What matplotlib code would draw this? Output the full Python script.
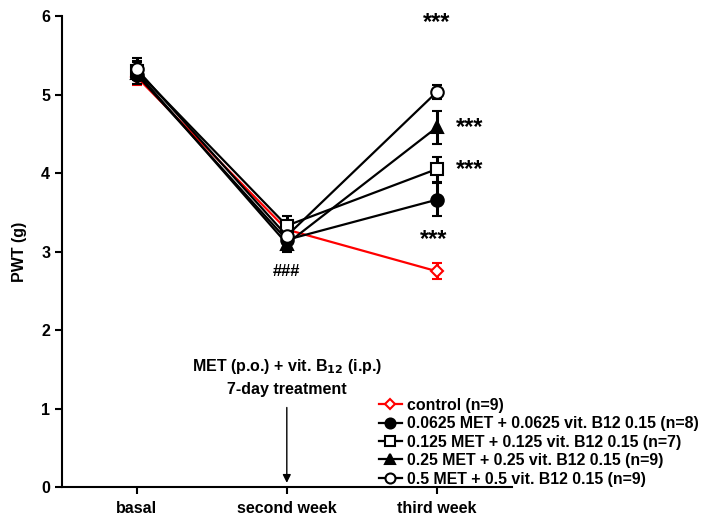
import numpy as np
import matplotlib
matplotlib.use('Agg')
import matplotlib.pyplot as plt
from matplotlib.lines import Line2D

plt.rcParams['font.family'] = ['Liberation Sans', 'DejaVu Sans']
plt.rcParams['font.weight'] = 'bold'

# 数据
weeks = ['basal', 'second week', 'third week']
labels = ['control (n=9)',
          '0.0625 MET + 0.0625 vit. B12 0.15 (n=8)',
          '0.125 MET + 0.125 vit. B12 0.15 (n=7)',
          '0.25 MET + 0.25 vit. B12 0.15 (n=9)',
          '0.5 MET + 0.5 vit. B12 0.15 (n=9)']
control_mean = [5.22, 3.28, 2.75]
control_sem = [0.10, 0.08, 0.10]
met0625_mean = [5.25, 3.15, 3.66]
met0625_sem = [0.12, 0.10, 0.21]
met125_mean = [5.30, 3.33, 4.05]
met125_sem = [0.12, 0.12, 0.16]
met25_mean = [5.28, 3.10, 4.58]
met25_sem = [0.15, 0.10, 0.21]
met5_mean = [5.32, 3.20, 5.03]
met5_sem = [0.14, 0.10, 0.09]

x = np.arange(len(weeks))

fig = plt.figure(figsize=(7.08, 5.15), dpi=100)
ax = fig.add_axes([0.0876, 0.054, 0.635, 0.915])

series = [
    (control_mean, control_sem, 'red', 'D', 'white', 6),
    (met0625_mean, met0625_sem, 'black', 'o', 'black', 9),
    (met125_mean, met125_sem, 'black', 's', 'white', 9),
    (met25_mean, met25_sem, 'black', '^', 'black', 9),
    (met5_mean, met5_sem, 'black', 'o', 'white', 9),
]
order = [1, 2, 3, 4, 0]
handles = [None] * len(series)
for i in order:
    m, s, c, mk, fc, ms = series[i]
    ax.errorbar(x, m, yerr=s, color=c, marker=mk, mfc=fc, mec=c, ms=ms,
                mew=1.5, lw=1.6, elinewidth=2.2, capsize=3.5, capthick=2.2,
                zorder=3 if i else 2)
    handles[i] = Line2D([], [], color=c, marker=mk, mfc=fc, mec=c,
                        ms=ms * 0.8, mew=1.5, lw=1.6)

ax.set_xlim(-0.5, 2.5)
ax.set_ylim(0, 6)
ax.set_xticks(x)
ax.set_xticklabels(weeks, fontsize=11.5, fontweight='bold')
ax.set_yticks(range(7))
ax.tick_params(axis='both', labelsize=11.5, width=1.5, length=5)
for t in ax.get_yticklabels():
    t.set_fontweight('bold')
ax.tick_params(axis='x', pad=5)
ax.set_ylabel('PWT (g)', fontsize=11.5, fontweight='bold', labelpad=10)
ax.spines['top'].set_visible(False)
ax.spines['right'].set_visible(False)
ax.spines['left'].set_linewidth(1.5)
ax.spines['bottom'].set_linewidth(1.5)

# 显著性标记
star_kw = dict(ha='center', va='center', fontsize=17, fontweight='bold')
ax.text(2, 5.92, '***', **star_kw)
ax.text(2.22, 4.58, '***', **star_kw)
ax.text(2.22, 4.05, '***', **star_kw)
ax.text(1.98, 3.15, '***', **star_kw)
ax.text(1, 2.75, '###', ha='center', va='center', fontsize=12, fontweight='bold')

ax.annotate('', xy=(1, 0.02), xytext=(1, 1.05),
            arrowprops=dict(arrowstyle='-|>', color='black', lw=1.0, mutation_scale=12))
ax.text(1, 1.15, 'MET (p.o.) + vit. B$_{\\mathbf{12}}$ (i.p.)\n7-day treatment',
        ha='center', va='bottom', fontsize=11.5, fontweight='bold', linespacing=1.5)

leg = ax.legend(handles=handles, labels=labels, loc='lower left',
                bbox_to_anchor=(0.69, -0.012), frameon=False, fontsize=11.4,
                handlelength=1.5, handletextpad=0.3, labelspacing=0.22,
                borderaxespad=0.0)
for t in leg.get_texts():
    t.set_fontweight('bold')

fig.savefig('out.png', dpi=100)
